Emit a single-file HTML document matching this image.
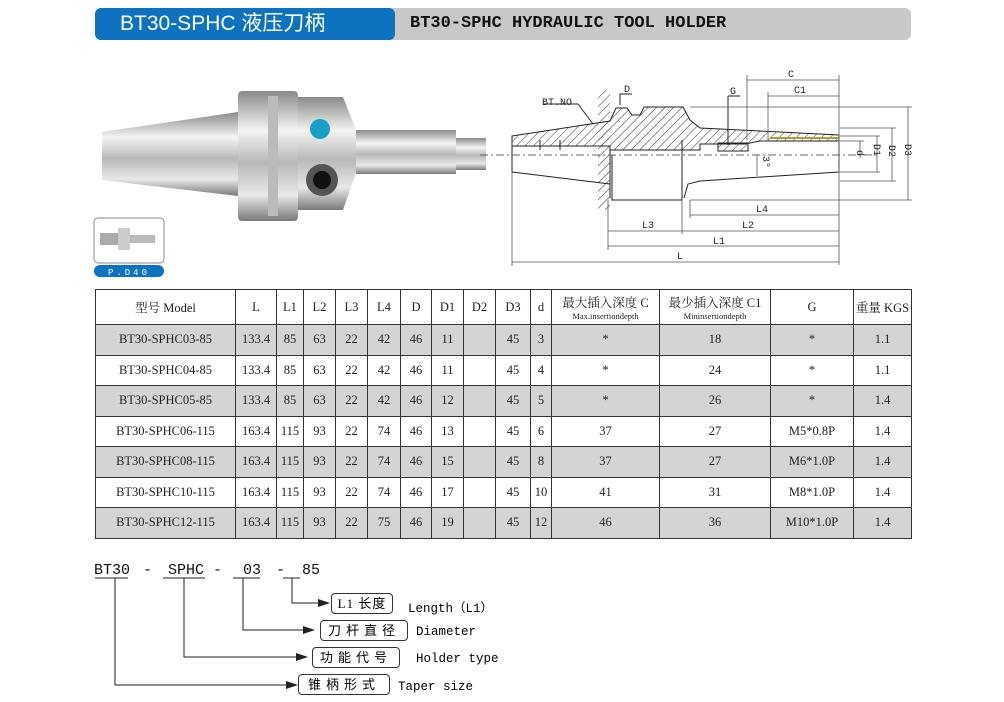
<!DOCTYPE html>
<html><head><meta charset="utf-8"><style>
body{margin:0;width:1004px;height:702px;background:#fff;position:relative;overflow:hidden;font-family:"Liberation Serif","Noto Serif CJK SC",serif;}
.abs{position:absolute}
table{position:absolute;left:95px;top:289px;border-collapse:collapse;table-layout:fixed;width:816px;font-size:12.5px;color:#222}
td{border:1px solid #333;text-align:center;padding:0;height:29.5px;white-space:nowrap;overflow:hidden}
tr.h td{height:34px;font-size:12.5px}
tr.g td{background:#d4d4d4}
.sm{font-size:8.5px;display:block;line-height:10px}
.box{position:absolute;border:1px solid #333;border-radius:4px;height:19px;font-size:13px;line-height:19px;text-align:center;letter-spacing:5px;font-family:"Liberation Serif","Noto Sans CJK SC",sans-serif}
.lab{position:absolute;font-size:12.5px;font-family:"Liberation Mono",monospace}
</style></head><body>
<div class="abs" style="left:95px;top:8px;width:816px;height:32px;background:#c8c8c8;border-radius:6px"></div>
<div class="abs" style="left:95px;top:8px;width:300px;height:32px;background:#0d72c0;border-radius:6px;color:#fff;font-size:21px;line-height:32px;text-indent:25px;font-family:'Liberation Sans','Noto Sans CJK SC',sans-serif;">BT30-SPHC 液压刀柄</div>
<div class="abs" style="left:410px;top:8px;line-height:32px;font-size:17px;font-weight:bold;font-family:'Liberation Mono',monospace;color:#111">BT30-SPHC HYDRAULIC TOOL HOLDER</div>

<svg class="abs" style="left:0;top:0" width="1004" height="290">
<defs>
<linearGradient id="m" x1="0" y1="0" x2="0" y2="1">
<stop offset="0" stop-color="#8a8a8a"/><stop offset=".3" stop-color="#f4f4f4"/><stop offset=".55" stop-color="#b8b8b8"/><stop offset=".8" stop-color="#e8e8e8"/><stop offset="1" stop-color="#7a7a7a"/></linearGradient>
<pattern id="hat" width="6" height="6" patternUnits="userSpaceOnUse" patternTransform="rotate(45)"><line x1="0" y1="0" x2="0" y2="6" stroke="#333" stroke-width="1"/></pattern>
</defs>
<polygon points="102,132 238,112 238,196 102,180" fill="url(#m)"/>
<rect x="238" y="91" width="60" height="130" rx="4" fill="url(#m)"/>
<rect x="268" y="96" width="10" height="120" fill="#bbb"/>
<polygon points="298,97 343,97 356,130 356,173 343,210 298,210" fill="url(#m)"/>
<rect x="356" y="130" width="100" height="44" fill="url(#m)"/>
<polygon points="456,138 486,138 486,170 456,170" fill="url(#m)"/>
<circle cx="320" cy="129" r="10" fill="#1aa0c8"/>
<circle cx="322" cy="180" r="16" fill="#555"/><circle cx="322" cy="180" r="9" fill="#111"/>
<rect x="94" y="218" width="70" height="45" rx="4" fill="#fff" stroke="#888"/>
<rect x="100" y="233" width="18" height="12" fill="#aaa"/><rect x="118" y="228" width="12" height="22" fill="#ccc"/><rect x="130" y="235" width="25" height="8" fill="#bbb"/>
<rect x="94" y="265" width="70" height="12" rx="6" fill="#0d72c0"/>
<text x="129" y="275" fill="#fff" font-size="9" text-anchor="middle" font-family="Liberation Mono" letter-spacing="3">P.D40</text>
<g stroke="#222" stroke-width="1" fill="none">
<rect x="598" y="90" width="12" height="120" fill="url(#hat)" stroke="none"/>
<polygon points="512,136 610,121 616,108 627,108 632,115 640,115 644,107 683,107 690,120 700,128 839,135 839,141 760,141 745,144 700,144 700,150 610,150 610,146 512,146" fill="url(#hat)"/>
<line x1="512" y1="136" x2="512" y2="172"/>
<line x1="512" y1="172" x2="610" y2="184"/>
<line x1="610" y1="150" x2="610" y2="198"/>
<polyline points="612,155 612,200 682,200 682,140"/>
<polyline points="684,198 688,184 700,181 839,172 839,141"/>
<line x1="480" y1="155" x2="880" y2="155" stroke-dasharray="8,3,2,3" stroke="#666"/>
<line x1="540" y1="140" x2="540" y2="150"/><line x1="560" y1="140" x2="560" y2="150"/>
<rect x="718" y="143" width="30" height="8" fill="url(#hat)"/>
<line x1="770" y1="138" x2="838" y2="138" stroke="#b89a30" stroke-width="2"/>
<line x1="543" y1="104" x2="578" y2="104"/><line x1="578" y1="104" x2="593" y2="124"/>
<line x1="620" y1="94" x2="632" y2="94"/><line x1="620" y1="94" x2="620" y2="105"/>
<line x1="728" y1="96" x2="740" y2="96"/><line x1="728" y1="96" x2="728" y2="145"/>
<g stroke="#555" stroke-width=".8">
<line x1="747" y1="80" x2="839" y2="80"/><line x1="747" y1="75" x2="747" y2="140"/>
<line x1="768" y1="96" x2="839" y2="96"/><line x1="768" y1="92" x2="768" y2="140"/>
<line x1="839" y1="75" x2="839" y2="265"/>
<line x1="908" y1="107" x2="908" y2="200"/><line x1="690" y1="107" x2="912" y2="107"/><line x1="690" y1="200" x2="912" y2="200"/>
<line x1="892" y1="128" x2="892" y2="181"/><line x1="840" y1="128" x2="896" y2="128"/><line x1="840" y1="181" x2="896" y2="181"/>
<line x1="877" y1="136" x2="877" y2="172"/><line x1="840" y1="136" x2="880" y2="136"/><line x1="840" y1="172" x2="880" y2="172"/>
<line x1="860" y1="141" x2="860" y2="158"/><line x1="840" y1="141" x2="864" y2="141"/>
<line x1="757" y1="155" x2="757" y2="176"/>
<line x1="690" y1="215" x2="839" y2="215"/><line x1="690" y1="200" x2="690" y2="218"/>
<line x1="608" y1="231" x2="839" y2="231"/><line x1="682" y1="200" x2="682" y2="234"/><line x1="608" y1="200" x2="608" y2="250"/>
<line x1="608" y1="246" x2="839" y2="246"/>
<line x1="512" y1="262" x2="839" y2="262"/><line x1="512" y1="172" x2="512" y2="266"/>
</g></g>
<g font-family="Liberation Mono" font-size="10" fill="#222" text-anchor="middle">
<text x="791" y="77">C</text><text x="800" y="93">C1</text><text x="733" y="94">G</text><text x="627" y="92">D</text>
<text x="557" y="105">BT.NO</text>
<text x="762" y="212">L4</text><text x="748" y="228">L2</text><text x="648" y="228">L3</text><text x="719" y="244">L1</text><text x="680" y="259">L</text>
<text transform="translate(857,153) rotate(90)">d</text><text transform="translate(874,150) rotate(90)">D1</text>
<text transform="translate(889,151) rotate(90)">D2</text><text transform="translate(905,150) rotate(90)">D3</text>
<text transform="translate(763,162) rotate(90)">3°</text>
</g>
</svg>

<table>
<colgroup><col style="width:140px"><col style="width:41px"><col style="width:27px"><col style="width:32px"><col style="width:32px"><col style="width:33px"><col style="width:31px"><col style="width:32px"><col style="width:32px"><col style="width:35px"><col style="width:21px"><col style="width:108px"><col style="width:111px"><col style="width:83px"><col style="width:58px"></colgroup>
<tr class="h"><td>型号 Model</td><td>L</td><td>L1</td><td>L2</td><td>L3</td><td>L4</td><td>D</td><td>D1</td><td>D2</td><td>D3</td><td>d</td><td>最大插入深度 C<span class="sm">Max.insertiondepth</span></td><td>最少插入深度 C1<span class="sm">Mininsertiondepth</span></td><td>G</td><td>重量 KGS</td></tr>
<tr class="g"><td>BT30-SPHC03-85</td><td>133.4</td><td>85</td><td>63</td><td>22</td><td>42</td><td>46</td><td>11</td><td></td><td>45</td><td>3</td><td>*</td><td>18</td><td>*</td><td>1.1</td></tr>
<tr><td>BT30-SPHC04-85</td><td>133.4</td><td>85</td><td>63</td><td>22</td><td>42</td><td>46</td><td>11</td><td></td><td>45</td><td>4</td><td>*</td><td>24</td><td>*</td><td>1.1</td></tr>
<tr class="g"><td>BT30-SPHC05-85</td><td>133.4</td><td>85</td><td>63</td><td>22</td><td>42</td><td>46</td><td>12</td><td></td><td>45</td><td>5</td><td>*</td><td>26</td><td>*</td><td>1.4</td></tr>
<tr><td>BT30-SPHC06-115</td><td>163.4</td><td>115</td><td>93</td><td>22</td><td>74</td><td>46</td><td>13</td><td></td><td>45</td><td>6</td><td>37</td><td>27</td><td>M5*0.8P</td><td>1.4</td></tr>
<tr class="g"><td>BT30-SPHC08-115</td><td>163.4</td><td>115</td><td>93</td><td>22</td><td>74</td><td>46</td><td>15</td><td></td><td>45</td><td>8</td><td>37</td><td>27</td><td>M6*1.0P</td><td>1.4</td></tr>
<tr><td>BT30-SPHC10-115</td><td>163.4</td><td>115</td><td>93</td><td>22</td><td>74</td><td>46</td><td>17</td><td></td><td>45</td><td>10</td><td>41</td><td>31</td><td>M8*1.0P</td><td>1.4</td></tr>
<tr class="g"><td>BT30-SPHC12-115</td><td>163.4</td><td>115</td><td>93</td><td>22</td><td>75</td><td>46</td><td>19</td><td></td><td>45</td><td>12</td><td>46</td><td>36</td><td>M10*1.0P</td><td>1.4</td></tr>
</table>

<svg class="abs" style="left:0;top:550px" width="520" height="152">
<g stroke="#222" stroke-width="1" fill="none">
<line x1="95" y1="28" x2="128" y2="28"/><line x1="163" y1="28" x2="205" y2="28"/><line x1="233" y1="28" x2="260" y2="28"/><line x1="283" y1="28" x2="300" y2="28"/>
<polyline points="292,28 292,53 320,53"/><polyline points="243,28 243,80 305,80"/><polyline points="184,28 184,107 298,107"/><polyline points="115,28 115,135 288,135"/>
</g>
<g fill="#222"><polygon points="318,49 330,53 318,57"/><polygon points="303,76 315,80 303,84"/><polygon points="296,103 308,107 296,111"/><polygon points="286,131 298,135 286,139"/></g>
<g font-family="Liberation Mono" font-size="15" fill="#111"><text x="94" y="24">BT30</text><text x="143" y="24">-</text><text x="168" y="24">SPHC</text><text x="213" y="24">-</text><text x="243" y="24">03</text><text x="276" y="24">-</text><text x="302" y="24">85</text></g>
</svg>
<div class="box" style="left:331px;top:593px;width:60px;letter-spacing:1px">L1 长度</div>
<div class="box" style="left:320px;top:620px;width:86px">刀杆直径</div>
<div class="box" style="left:312px;top:647px;width:86px">功能代号</div>
<div class="box" style="left:298px;top:674px;width:90px">锥柄形式</div>
<div class="lab" style="left:408px;top:597px">Length（L1）</div>
<div class="lab" style="left:416px;top:625px">Diameter</div>
<div class="lab" style="left:416px;top:652px">Holder type</div>
<div class="lab" style="left:398px;top:680px">Taper size</div>
</body></html>
